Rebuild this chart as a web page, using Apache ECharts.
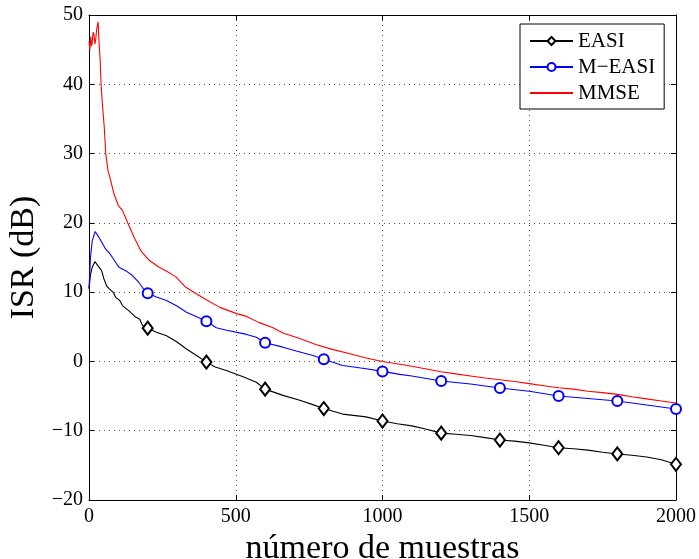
<!DOCTYPE html>
<html>
<head>
<meta charset="utf-8">
<script src="https://cdn.jsdelivr.net/npm/echarts@6/dist/echarts.min.js"></script>
<style>
  html, body { margin: 0; padding: 0; background: #fff; }
  #chart { width: 699px; height: 559px; }
</style>
</head>
<body>
<div id="chart"></div>
<script>
// ISR learning curves for three separation algorithms
const seriesNames = ['EASI', 'M\u2212EASI', 'MMSE'];

const easiX = [0,5,11,20,23,34,43,51,60,68,82,91,105,114,136,159,173,182,200,230,
  264,300,332,365,400,430,468,525,570,600,661,718,760,800,864,944,1000,1050,1100,1150,
  1200,1250,1300,1350,1400,1450,1500,1550,1600,1650,1700,1750,1800,1850,1900,1950,2000];
const easiY = [10.5,12.5,13.6,14.4,14.4,13.6,13.1,11.9,10.9,10.5,10.0,9.25,8.8,8.06,7.3,6.4,6.1,5.2,4.8,4.2,
  3.7,2.8,1.8,0.9,-0.1,-0.8,-1.3,-2.2,-3.0,-4.0,-4.9,-5.6,-6.2,-6.8,-7.6,-8.0,-8.6,-9.0,-9.3,-9.8,
  -10.35,-10.5,-10.7,-11.0,-11.35,-11.5,-11.75,-12.1,-12.45,-12.6,-12.8,-13.1,-13.35,-13.55,-13.8,-14.2,-14.85];

const meX = [0,5,11,21,34,45,57,70,80,102,125,148,170,190,200,230,264,300,332,365,
  400,434,469,537,570,600,661,706,760,800,864,944,1000,1059,1100,1200,1300,1400,1500,1600,
  1700,1800,1900,2000];
const meY = [10.5,15.0,17.4,18.75,17.9,17.1,16.2,15.6,15.0,13.6,13.1,12.4,11.4,10.2,9.85,9.3,8.8,8.0,7.1,6.5,
  5.8,4.85,4.5,3.9,3.5,2.7,2.06,1.5,0.9,0.3,-0.58,-1.05,-1.44,-1.87,-2.1,-2.83,-3.25,-3.84,-4.3,-4.99,
  -5.35,-5.71,-6.28,-6.86];

const mmseX = [0,3,6,9,11,14,17,20,23,26,28,31,34,36,38,41,45,52,57,65,
  74,85,100,114,131,154,176,205,239,262,296,330,364,404,446,503,537,580,625,661,
  718,775,832,889,944,1000,1059,1100,1150,1200,1250,1300,1350,1400,1450,1500,1550,1600,1650,1700,
  1750,1800,1850,1900,1950,2000];
const mmseY = [46.2,45.0,46.9,45.5,46.0,47.5,47.2,45.8,46.5,47.9,47.7,49.0,46.2,44.8,43.6,40.0,37.5,33.8,30.0,27.5,
  26.1,24.2,22.5,21.8,20.1,17.9,16.0,14.6,13.6,13.1,12.2,10.7,9.8,8.8,7.8,6.9,6.5,5.6,4.9,4.1,
  3.3,2.4,1.7,1.1,0.5,0.0,-0.4,-0.7,-1.1,-1.5,-1.8,-2.1,-2.4,-2.65,-2.9,-3.2,-3.5,-3.8,-4.0,-4.3,
  -4.5,-4.75,-5.1,-5.4,-5.7,-6.0];

// markers are placed every 200 samples
const markerStep = 200;

const FONT = '"Liberation Serif", "Times New Roman", Times, serif';

function toData(xs, ys, marked) {
  return xs.map((x, i) => {
    const item = { value: [x, ys[i]] };
    if (!(marked && x > 0 && x % markerStep === 0)) item.symbol = 'none';
    return item;
  });
}

const minusFmt = v => (v < 0 ? '\u2212' + Math.abs(v) : String(v));

const chart = echarts.init(document.getElementById('chart'), null, { renderer: 'canvas' });

// mirror axes on the top and right edges: box line plus inward ticks only
const boxAxis = {
  type: 'value',
  axisLine: { show: true, onZero: false, lineStyle: { color: '#000', width: 1 } },
  axisTick: { show: true, inside: true, length: 5, lineStyle: { color: '#000' } },
  axisLabel: { show: false },
  splitLine: { show: false }
};

chart.setOption({
  animation: false,
  backgroundColor: '#fff',
  textStyle: { fontFamily: FONT },
  grid: { left: 89, right: 23, top: 15, bottom: 59, containLabel: false, outerBoundsMode: 'none' },
  legend: {
    orient: 'vertical',
    left: 520,
    top: 24,
    padding: [6, 9, 5, 9],
    itemGap: 4,
    itemWidth: 43,
    itemHeight: 10,
    itemTextGap: 5,
    backgroundColor: '#fff',
    borderColor: '#000',
    borderWidth: 1,
    borderRadius: 0,
    textStyle: { fontFamily: FONT, fontSize: 21, color: '#000', lineHeight: 22 },
    data: [
      { name: seriesNames[0] },
      { name: seriesNames[1] },
      { name: seriesNames[2], itemStyle: { opacity: 0 } }
    ]
  },
  xAxis: [
    {
      type: 'value',
      min: 0, max: 2000, interval: 500,
      name: 'número de muestras',
      nameLocation: 'middle',
      nameGap: 19,
      nameTextStyle: { fontFamily: FONT, fontSize: 34, color: '#000' },
      axisLine: { show: true, onZero: false, lineStyle: { color: '#000', width: 1 } },
      axisTick: { show: true, inside: true, length: 5, lineStyle: { color: '#000' } },
      axisLabel: { fontFamily: FONT, fontSize: 20, color: '#000', margin: 7, formatter: minusFmt },
      splitLine: { show: true, lineStyle: { color: '#555', type: [1, 4], width: 1 } }
    },
    Object.assign({}, boxAxis, { position: 'top', min: 0, max: 2000, interval: 500 })
  ],
  yAxis: [
    {
      type: 'value',
      min: -20, max: 50, interval: 10,
      name: 'ISR (dB)',
      nameLocation: 'middle',
      nameRotate: 90,
      nameGap: 47,
      nameTextStyle: { fontFamily: FONT, fontSize: 34, color: '#000' },
      axisLine: { show: true, onZero: false, lineStyle: { color: '#000', width: 1 } },
      axisTick: { show: true, inside: true, length: 5, lineStyle: { color: '#000' } },
      axisLabel: { fontFamily: FONT, fontSize: 20, color: '#000', margin: 6, formatter: minusFmt },
      splitLine: { show: true, lineStyle: { color: '#555', type: [1, 4], width: 1 } }
    },
    Object.assign({}, boxAxis, { position: 'right', min: -20, max: 50, interval: 10 })
  ],
  series: [
    {
      name: seriesNames[0],
      type: 'line',
      data: toData(easiX, easiY, true),
      symbol: 'emptyDiamond',
      symbolSize: [10, 13],
      showAllSymbol: true,
      color: '#000',
      lineStyle: { color: '#000', width: 1.1 },
      itemStyle: { color: '#000', borderWidth: 1 },
      z: 3
    },
    {
      name: seriesNames[1],
      type: 'line',
      data: toData(meX, meY, true),
      symbol: 'emptyCircle',
      symbolSize: 10,
      showAllSymbol: true,
      color: '#0000ff',
      lineStyle: { color: '#0000ff', width: 1.1 },
      itemStyle: { color: '#0000ff', borderWidth: 1 },
      z: 4
    },
    {
      name: seriesNames[2],
      type: 'line',
      data: toData(mmseX, mmseY, false),
      symbol: 'none',
      color: '#ff0000',
      lineStyle: { color: '#ff0000', width: 1.1 },
      z: 5
    }
  ]
});
</script>
</body>
</html>
